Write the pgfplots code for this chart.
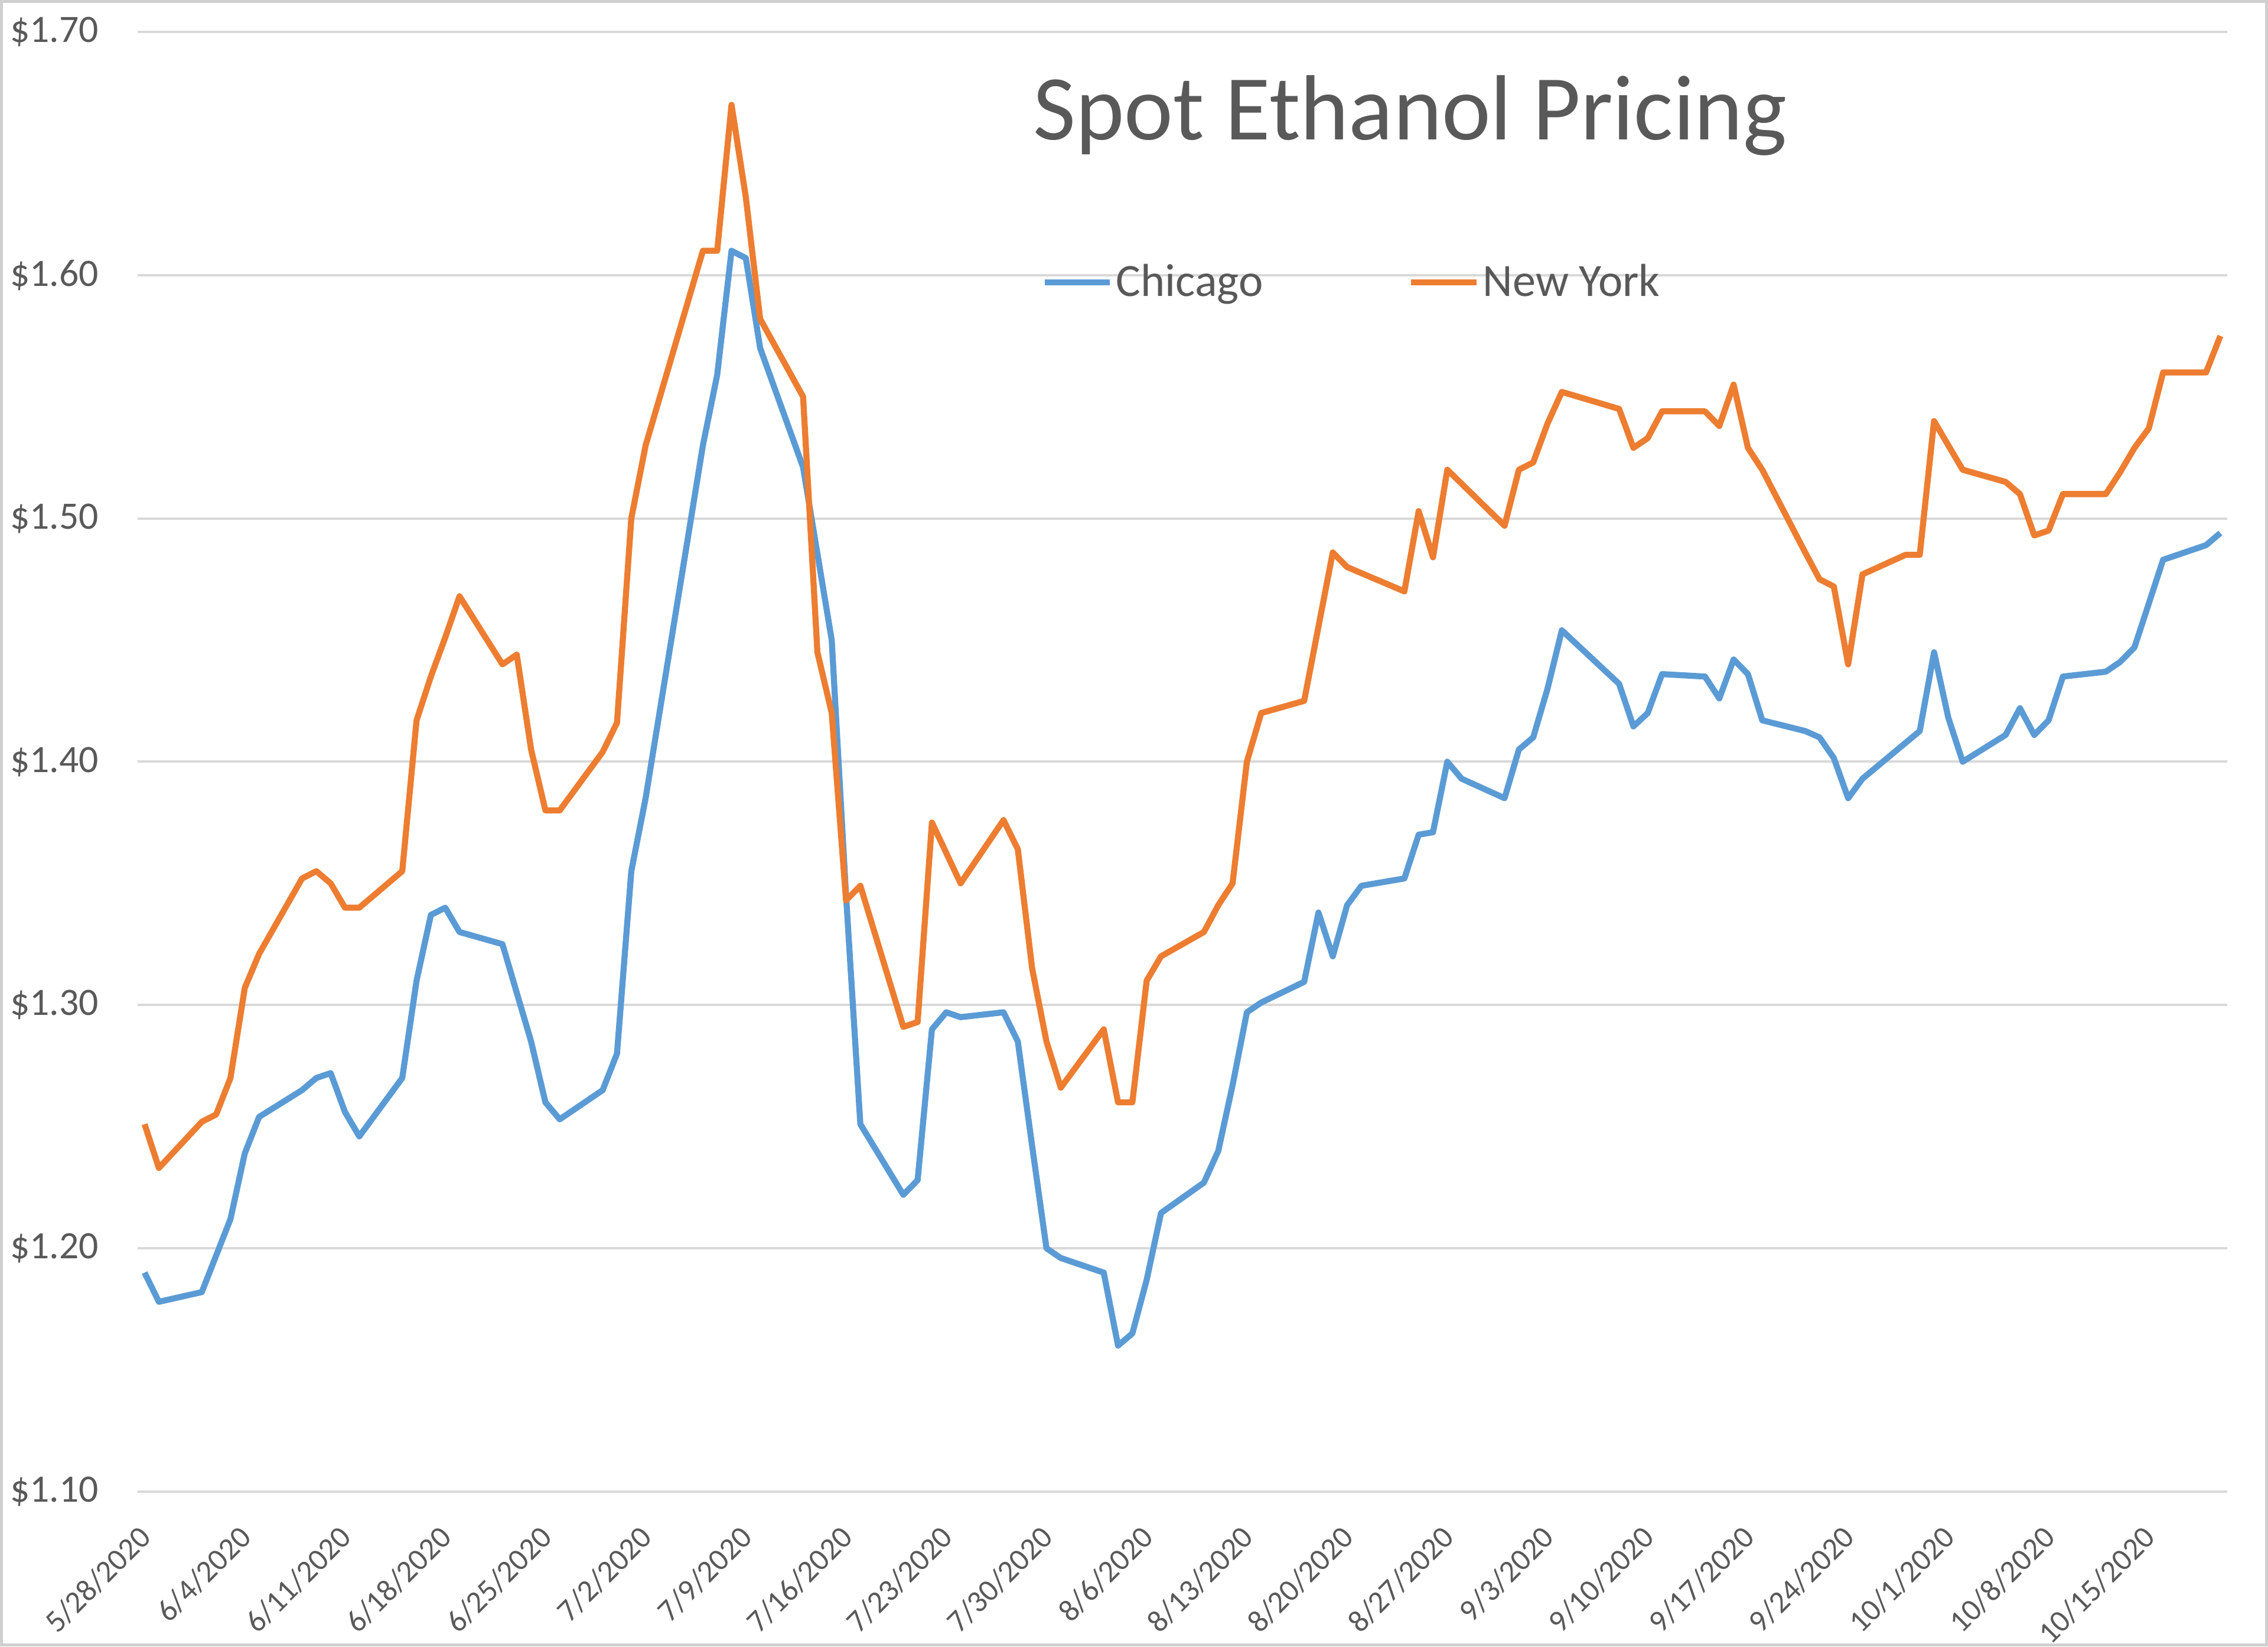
\documentclass[border=0pt]{standalone}
\usepackage{pgfplots}
\pgfplotsset{compat=1.18}
\usepackage{pgfplotstable}
\usepackage{fontspec}
\setmainfont{Carlito}

\definecolor{chi}{HTML}{5B9BD5}
\definecolor{ny}{HTML}{ED7D31}
\definecolor{txt}{HTML}{595959}
\definecolor{gridc}{HTML}{D9D9D9}
\definecolor{framec}{HTML}{D0D0D0}

% day 0 = 5/28/2020, business days only
\pgfplotstableread{
day price
0 1.190
1 1.178
4 1.182
6 1.212
7 1.239
8 1.254
11 1.265
12 1.270
13 1.272
14 1.256
15 1.246
18 1.270
19 1.310
20 1.337
21 1.340
22 1.330
25 1.325
27 1.285
28 1.260
29 1.253
32 1.265
33 1.280
34 1.355
35 1.385
39 1.530
40 1.559
41 1.610
42 1.607
43 1.570
46 1.521
48 1.450
49 1.345
50 1.251
53 1.222
54 1.228
55 1.290
56 1.297
57 1.295
60 1.297
61 1.285
62 1.242
63 1.200
64 1.196
67 1.190
68 1.160
69 1.165
70 1.187
71 1.2145
74 1.227
75 1.240
76 1.267
77 1.297
78 1.301
81 1.3095
82 1.338
83 1.320
84 1.341
85 1.349
88 1.352
89 1.370
90 1.371
91 1.400
92 1.393
95 1.385
96 1.405
97 1.410
98 1.430
99 1.454
103 1.432
104 1.4145
105 1.420
106 1.436
109 1.435
110 1.426
111 1.442
112 1.436
113 1.417
116 1.4126
117 1.410
118 1.4015
119 1.385
120 1.393
124 1.4126
125 1.445
126 1.418
127 1.400
130 1.411
131 1.422
132 1.411
133 1.417
134 1.435
137 1.437
138 1.441
139 1.447
141 1.483
144 1.489
145 1.494
}\chicago

\pgfplotstableread{
day price
0 1.251
1 1.233
4 1.252
5 1.255
6 1.270
7 1.307
8 1.321
11 1.352
12 1.355
13 1.350
14 1.340
15 1.340
18 1.355
19 1.417
20 1.435
21 1.451
22 1.468
25 1.440
26 1.444
27 1.405
28 1.380
29 1.380
32 1.404
33 1.416
34 1.500
35 1.530
39 1.610
40 1.610
41 1.670
42 1.632
43 1.582
46 1.550
47 1.445
48 1.420
49 1.343
50 1.349
53 1.291
54 1.293
55 1.375
57 1.350
60 1.376
61 1.364
62 1.315
63 1.285
64 1.266
67 1.290
68 1.260
69 1.260
70 1.310
71 1.320
74 1.330
75 1.341
76 1.350
77 1.400
78 1.420
81 1.425
83 1.486
84 1.480
88 1.470
89 1.503
90 1.484
91 1.520
95 1.497
96 1.520
97 1.523
98 1.539
99 1.552
103 1.545
104 1.529
105 1.533
106 1.544
109 1.544
110 1.538
111 1.555
112 1.529
113 1.520
116 1.486
117 1.475
118 1.472
119 1.440
120 1.477
123 1.485
124 1.485
125 1.540
127 1.520
130 1.515
131 1.510
132 1.493
133 1.495
134 1.510
137 1.510
138 1.519
139 1.529
140 1.537
141 1.560
144 1.560
145 1.575
}\newyork

\begin{document}
\begin{tikzpicture}
\draw[framec, line width=1pt] (-47pt,-53pt) rectangle (736pt,515pt);
\begin{axis}[
    at={(0,0)}, anchor=south west,
    scale only axis,
    width=722.5pt, height=504.5pt,
    xmin=-0.5, xmax=145.5,
    ymin=1.1, ymax=1.7,
    xtick={0,7,...,140},
    xticklabels={5/28/2020,6/4/2020,6/11/2020,6/18/2020,6/25/2020,7/2/2020,7/9/2020,7/16/2020,7/23/2020,7/30/2020,8/6/2020,8/13/2020,8/20/2020,8/27/2020,9/3/2020,9/10/2020,9/17/2020,9/24/2020,10/1/2020,10/8/2020,10/15/2020},
    ytick={1.1,1.2,1.3,1.4,1.5,1.6,1.7},
    yticklabels={\$1.10,\$1.20,\$1.30,\$1.40,\$1.50,\$1.60,\$1.70},
    xticklabel style={xshift=-2.5pt, yshift=-11pt, rotate=45, anchor=north east, inner sep=0pt,
        font=\fontsize{10.75}{13}\selectfont, text=txt},
    yticklabel style={xshift=-13.2pt, anchor=east, inner sep=0pt,
        font=\fontsize{13.4}{16}\selectfont, text=txt},
    ymajorgrids,
    grid style={gridc, line width=0.8pt},
    axis line style={draw=none},
    major tick length=0pt,
    tick style={draw=none},
    legend columns=2,
    legend style={at={(0.4323,0.8285)}, anchor=west, draw=none, fill=none,
        inner sep=0pt, font=\fontsize{16}{19}\selectfont, text=txt,
        nodes={inner sep=1.2pt},
        /tikz/every even column/.append style={column sep=49pt}},
    legend image code/.code={\draw[#1] (0pt,0pt) -- (22.5pt,0pt);},
]
\addplot[chi, line width=2.1pt, line join=round] table[x=day, y=price] {\chicago};
\addlegendentry{Chicago}
\addplot[ny, line width=2.1pt, line join=round] table[x=day, y=price] {\newyork};
\addlegendentry{New York}
\node[anchor=base west, inner sep=0pt, text=txt, font=\fontsize{32}{38}\selectfont]
    at (rel axis cs:0.4284,0.9262) {Spot Ethanol Pricing};
\end{axis}
\end{tikzpicture}
\end{document}
